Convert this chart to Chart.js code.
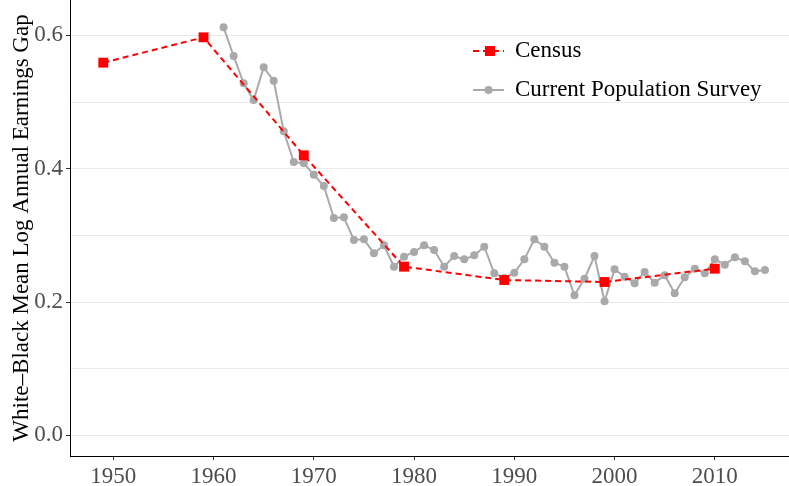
<!DOCTYPE html>
<html>
<head>
<meta charset="utf-8">
<script src="https://cdn.jsdelivr.net/npm/chart.js@4"></script>
<style>
  html, body { margin: 0; padding: 0; background: #fff; }
  canvas { display: block; }
</style>
</head>
<body>
<canvas id="c" width="789" height="486"></canvas>
<script>
const censusYears = [1949, 1959, 1969, 1979, 1989, 1999, 2010];
const censusValues = [0.559, 0.597, 0.420, 0.253, 0.233, 0.230, 0.250];

const cpsYears = [1961, 1962, 1963, 1964, 1965, 1966, 1967, 1968, 1969, 1970,
  1971, 1972, 1973, 1974, 1975, 1976, 1977, 1978, 1979, 1980,
  1981, 1982, 1983, 1984, 1985, 1986, 1987, 1988, 1989, 1990,
  1991, 1992, 1993, 1994, 1995, 1996, 1997, 1998, 1999, 2000,
  2001, 2002, 2003, 2004, 2005, 2006, 2007, 2008, 2009, 2010,
  2011, 2012, 2013, 2014, 2015];
const cpsValues = [0.612, 0.569, 0.528, 0.503, 0.552, 0.532, 0.456, 0.410, 0.408, 0.391,
  0.374, 0.326, 0.327, 0.293, 0.294, 0.273, 0.285, 0.253, 0.268, 0.275,
  0.285, 0.278, 0.253, 0.269, 0.264, 0.270, 0.283, 0.243, 0.236, 0.244,
  0.264, 0.294, 0.283, 0.259, 0.253, 0.210, 0.235, 0.269, 0.201, 0.249,
  0.238, 0.228, 0.245, 0.229, 0.240, 0.213, 0.237, 0.250, 0.243, 0.264,
  0.256, 0.267, 0.261, 0.246, 0.248];

const xTicks = [1950, 1960, 1970, 1980, 1990, 2000, 2010];
const yTicks = [0.0, 0.1, 0.2, 0.3, 0.4, 0.5, 0.6];
const yLabeled = [0.0, 0.2, 0.4, 0.6];

const seriesNames = ['Census', 'Current Population Survey'];
const yTitle = 'White\u2013Black Mean Log Annual Earnings Gap';

const RED = '#ff0000';
const GRAY = '#a9a9a9';
const FONT = '"Liberation Serif", "DejaVu Serif", serif';

const legendPlugin = {
  id: 'customLegend',
  afterDraw(chart) {
    const ctx = chart.ctx;
    ctx.save();
    let y = 51;
    ctx.strokeStyle = RED;
    ctx.lineWidth = 2;
    ctx.setLineDash([6, 4]);
    ctx.beginPath(); ctx.moveTo(473, y); ctx.lineTo(504, y); ctx.stroke();
    ctx.setLineDash([]);
    ctx.fillStyle = RED;
    ctx.fillRect(485, y - 5, 10, 10);
    y = 90;
    ctx.strokeStyle = GRAY;
    ctx.lineWidth = 2;
    ctx.beginPath(); ctx.moveTo(473, y); ctx.lineTo(504, y); ctx.stroke();
    ctx.fillStyle = GRAY;
    ctx.beginPath(); ctx.arc(488.5, y, 4, 0, Math.PI * 2); ctx.fill();
    ctx.fillStyle = '#000';
    ctx.font = '23px ' + FONT;
    ctx.textBaseline = 'middle';
    ctx.textAlign = 'left';
    ctx.fillText(seriesNames[0], 515, 51);
    ctx.fillText(seriesNames[1], 515, 90);
    ctx.restore();
  }
};

new Chart(document.getElementById('c'), {
  type: 'line',
  data: {
    datasets: [
      {
        label: seriesNames[0],
        data: censusYears.map((x, i) => ({x: x, y: censusValues[i]})),
        borderColor: RED,
        backgroundColor: RED,
        borderWidth: 2,
        borderDash: [6, 4],
        pointStyle: 'rect',
        pointRadius: 7,
        pointBorderWidth: 0,
        tension: 0
      },
      {
        label: seriesNames[1],
        data: cpsYears.map((x, i) => ({x: x, y: cpsValues[i]})),
        borderColor: GRAY,
        backgroundColor: GRAY,
        borderWidth: 2,
        pointStyle: 'circle',
        pointRadius: 4,
        pointBorderWidth: 0,
        tension: 0
      }
    ]
  },
  options: {
    responsive: false,
    animation: false,
    layout: { padding: 0, autoPadding: false },
    plugins: {
      legend: { display: false },
      tooltip: { enabled: false }
    },
    scales: {
      x: {
        type: 'linear',
        min: 1945.68,
        max: 2017.4,
        afterBuildTicks(scale) { scale.ticks = xTicks.map(v => ({value: v})); },
        afterFit(scale) { scale.height = 30; scale.paddingLeft = 0; scale.paddingRight = 0; },
        ticks: {
          color: '#4d4d4d',
          font: { family: FONT, size: 23 },
          padding: 3,
          maxRotation: 0,
          callback: v => String(v)
        },
        grid: { drawOnChartArea: false, drawTicks: true, tickLength: 4, tickColor: '#333' },
        border: { display: true, color: '#000', width: 1 }
      },
      y: {
        type: 'linear',
        min: -0.031,
        max: 0.653,
        afterBuildTicks(scale) { scale.ticks = yTicks.map(v => ({value: v})); },
        afterFit(scale) { scale.width = 70; scale.paddingTop = 0; scale.paddingBottom = 0; },
        ticks: {
          color: '#4d4d4d',
          font: { family: FONT, size: 23 },
          padding: 3,
          callback: v => (yLabeled.some(t => Math.abs(t - v) < 1e-9) ? v.toFixed(1) : '')
        },
        grid: {
          color: '#ebebeb',
          lineWidth: 1,
          tickLength: 4,
          tickColor: ctx => (yLabeled.some(t => Math.abs(t - ctx.tick.value) < 1e-9) ? '#333' : 'rgba(0,0,0,0)')
        },
        border: { display: true, color: '#000', width: 1 },
        title: {
          display: true,
          text: yTitle,
          color: '#000',
          font: { family: FONT, size: 23 },
          padding: { top: 8, bottom: 0 }
        }
      }
    }
  },
  plugins: [legendPlugin]
});
</script>
</body>
</html>
